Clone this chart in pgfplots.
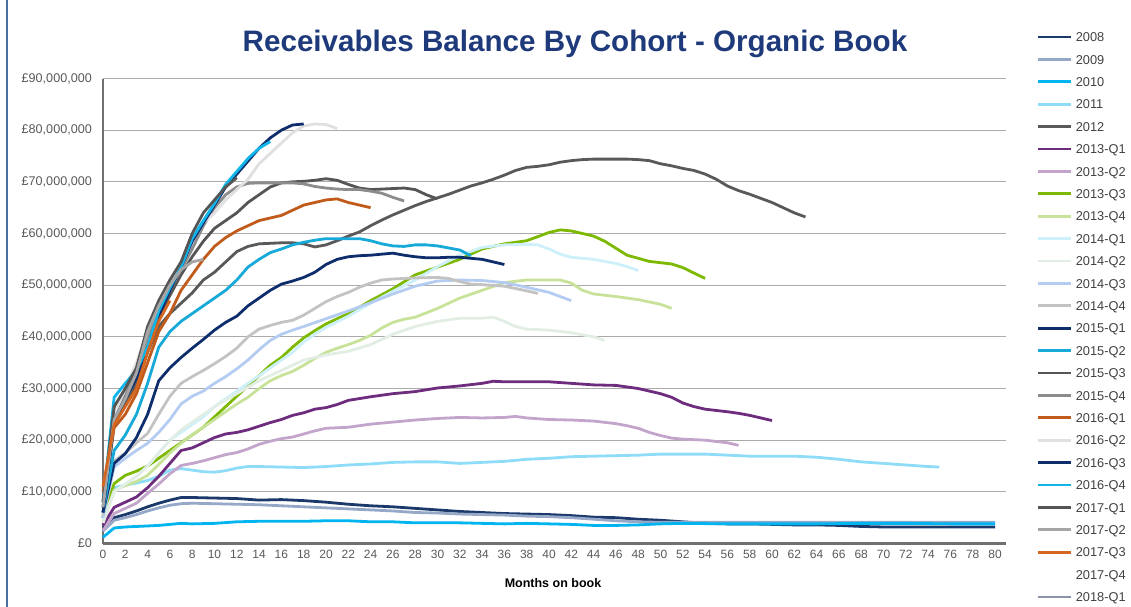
\documentclass[border=0pt]{standalone}
\usepackage{pgfplots}
\pgfplotsset{compat=1.18}
\usepackage{fontspec}
\setmainfont{Liberation Sans}
\definecolor{titleblue}{HTML}{1F3A7A}
\definecolor{ticktext}{HTML}{595959}
\definecolor{legtext}{HTML}{404040}
\definecolor{gridc}{HTML}{ABABAB}
\definecolor{axisc}{HTML}{707070}
\definecolor{framec}{HTML}{4A6FA5}
\definecolor{cA}{HTML}{1B3A6B}
\definecolor{cB}{HTML}{95A8C8}
\definecolor{cC}{HTML}{00B4F0}
\definecolor{cD}{HTML}{8FDCF8}
\definecolor{cE}{HTML}{595959}
\definecolor{cF}{HTML}{6E2C7E}
\definecolor{cG}{HTML}{C3A5CC}
\definecolor{cH}{HTML}{7DB900}
\definecolor{cI}{HTML}{C8E29A}
\definecolor{cJ}{HTML}{CDF0FA}
\definecolor{cK}{HTML}{E2EEE4}
\definecolor{cL}{HTML}{B4CCF2}
\definecolor{cM}{HTML}{C3C3C3}
\definecolor{cN}{HTML}{0E2D6C}
\definecolor{cO}{HTML}{17A9D8}
\definecolor{cP}{HTML}{555555}
\definecolor{cQ}{HTML}{8C8C8C}
\definecolor{cR}{HTML}{C05B1C}
\definecolor{cS}{HTML}{E0E0E0}
\definecolor{cT}{HTML}{0E2D6C}
\definecolor{cU}{HTML}{12B5EA}
\definecolor{cV}{HTML}{555555}
\definecolor{cW}{HTML}{A6A6A6}
\definecolor{cX}{HTML}{D4661F}
\definecolor{cZ}{HTML}{8A93AB}
\begin{document}
\begin{tikzpicture}[x=1pt,y=1pt]
\begin{axis}[
  scale only axis,
  width=903.15, height=465,
  xmin=0, xmax=81, ymin=0, ymax=90,
  xtick={0,2,...,80}, ytick={0,10,...,90},
  yticklabels={£0,{£10,000,000},{£20,000,000},{£30,000,000},{£40,000,000},{£50,000,000},{£60,000,000},{£70,000,000},{£80,000,000},{£90,000,000}},
  /pgf/number format/assume math mode=true,
  major tick length=0pt,
  ymajorgrids, grid style={draw=gridc, line width=1.3pt},
  axis x line*=bottom, axis y line*=left,
  x axis line style={-, draw=axisc, line width=2.2pt},
  y axis line style={-, draw=axisc, line width=1.3pt},
  xticklabel style={font=\fontsize{12}{14}\selectfont, text=ticktext, inner sep=0pt, yshift=-6pt, text height=8.6pt, text depth=0pt},
  yticklabel style={font=\fontsize{12.6}{14}\selectfont, text=ticktext, inner sep=0pt, xshift=-11pt},
  every axis plot/.append style={line width=2.8pt, line join=round, no marks},
  clip=false,
  legend cell align=left,
  legend image code/.code={\draw[#1, line width=2.8pt] (0pt,0pt) -- (33pt,0pt);},
  legend style={draw=none, fill=none, at={(axis description cs:1.0342,1.099)}, anchor=north west,
    font=\fontsize{12.8}{14}\selectfont, text=legtext, inner sep=0pt, outer sep=0pt,
    row sep=13.2pt, column sep=3pt,
    nodes={inner sep=0pt, text height=9.2pt, text depth=0pt}},
]
\coordinate (O) at (axis cs:0,0);
\addplot[cA] coordinates {(0,3.0)(1,5.0)(2,5.6)(3,6.3)(4,7.1)(5,7.8)(6,8.4)(7,8.9)(8,8.9)(10,8.8)(12,8.7)(14,8.4)(16,8.5)(18,8.3)(20,8.0)(22,7.6)(24,7.3)(26,7.1)(28,6.8)(30,6.5)(32,6.2)(34,6.0)(36,5.8)(38,5.7)(40,5.6)(42,5.4)(44,5.1)(46,5.0)(48,4.7)(50,4.5)(52,4.2)(54,3.9)(56,3.8)(58,3.8)(60,3.7)(62,3.6)(64,3.6)(66,3.5)(68,3.3)(70,3.2)(72,3.2)(74,3.2)(76,3.2)(78,3.2)(80,3.2)};
\addlegendentry{2008}
\addplot[cB] coordinates {(0,2.4)(1,4.5)(2,5.0)(3,5.6)(4,6.3)(5,6.9)(6,7.4)(7,7.7)(8,7.8)(10,7.7)(12,7.6)(14,7.5)(16,7.3)(18,7.1)(20,6.9)(22,6.7)(24,6.5)(26,6.3)(28,6.0)(30,5.9)(32,5.7)(34,5.6)(36,5.5)(38,5.3)(40,5.2)(42,5.0)(44,4.7)(46,4.4)(48,4.2)(50,4.1)(52,4.1)(56,4.1)(60,4.1)(64,4.1)(68,4.1)(72,4.1)(76,4.1)(80,4.1)};
\addlegendentry{2009}
\addplot[cC] coordinates {(0,1.2)(1,3.0)(2,3.2)(3,3.3)(4,3.4)(5,3.5)(6,3.7)(7,3.9)(8,3.8)(10,3.9)(12,4.2)(14,4.3)(16,4.3)(18,4.3)(20,4.4)(22,4.4)(24,4.2)(26,4.2)(28,4.0)(30,4.0)(32,4.0)(34,3.9)(36,3.8)(38,3.9)(40,3.8)(42,3.7)(44,3.5)(46,3.5)(48,3.6)(50,3.8)(52,3.9)(56,3.8)(60,3.8)(64,3.8)(68,3.9)(72,3.9)(76,3.8)(80,3.8)};
\addlegendentry{2010}
\addplot[cD] coordinates {(0,6.0)(1,10.8)(2,11.3)(3,11.7)(4,12.2)(5,13.0)(6,14.2)(7,14.5)(8,14.2)(9,13.9)(10,13.8)(11,14.1)(12,14.6)(13,14.9)(14,14.9)(16,14.8)(18,14.7)(20,14.9)(22,15.2)(24,15.4)(26,15.7)(28,15.8)(30,15.8)(32,15.5)(34,15.7)(36,15.9)(38,16.3)(40,16.5)(42,16.8)(44,16.9)(46,17.0)(48,17.1)(50,17.3)(52,17.3)(54,17.3)(56,17.1)(58,16.9)(60,16.9)(62,16.9)(64,16.7)(66,16.3)(68,15.8)(70,15.5)(72,15.2)(74,14.9)(75,14.8)};
\addlegendentry{2011}
\addplot[cE] coordinates {(0,5)(1,23)(2,27)(3,31)(4,37)(5,42)(6,44.5)(7,46.5)(8,48.5)(9,51)(10,52.5)(11,54.5)(12,56.5)(13,57.5)(14,58)(15,58.1)(16,58.2)(17,58.2)(18,58)(19,57.4)(20,57.8)(21,58.6)(22,59.5)(23,60.3)(24,61.5)(25,62.6)(26,63.6)(27,64.5)(28,65.4)(29,66.2)(30,66.9)(31,67.6)(32,68.4)(33,69.2)(34,69.8)(35,70.5)(36,71.3)(37,72.2)(38,72.8)(39,73)(40,73.3)(41,73.8)(42,74.1)(43,74.3)(44,74.4)(45,74.4)(46,74.4)(47,74.4)(48,74.3)(49,74.1)(50,73.5)(51,73.1)(52,72.6)(53,72.2)(54,71.5)(55,70.5)(56,69.2)(57,68.3)(58,67.6)(59,66.8)(60,66)(61,65)(62,64)(63,63.2)};
\addlegendentry{2012}
\addplot[cF] coordinates {(0,3.5)(1,7)(2,8)(3,9)(4,10.8)(5,13)(6,15.5)(7,18)(8,18.5)(9,19.5)(10,20.5)(11,21.2)(12,21.5)(13,22)(14,22.7)(15,23.4)(16,24)(17,24.8)(18,25.3)(19,26)(20,26.3)(21,26.9)(22,27.7)(24,28.4)(26,29)(28,29.4)(30,30.1)(32,30.5)(34,31)(35,31.4)(36,31.3)(38,31.3)(40,31.3)(42,31)(44,30.7)(46,30.6)(48,30)(50,29)(51,28.3)(52,27.2)(53,26.5)(54,26)(56,25.5)(57,25.2)(58,24.8)(60,23.8)};
\addlegendentry{2013-Q1}
\addplot[cG] coordinates {(0,2.5)(1,5.8)(2,6.8)(3,7.8)(4,9.7)(5,11.5)(6,13.5)(7,15.1)(8,15.5)(9,16)(10,16.6)(11,17.2)(12,17.6)(13,18.3)(14,19.2)(15,19.8)(16,20.3)(17,20.6)(18,21.2)(19,21.8)(20,22.3)(22,22.5)(24,23.1)(26,23.5)(28,23.9)(30,24.2)(32,24.4)(34,24.3)(36,24.4)(37,24.6)(38,24.3)(40,24)(42,23.9)(44,23.7)(46,23.2)(47,22.8)(48,22.3)(49,21.5)(50,20.9)(51,20.4)(52,20.2)(54,20.0)(56,19.5)(57,19)};
\addlegendentry{2013-Q2}
\addplot[cH] coordinates {(0,5)(1,11.6)(2,13.2)(3,14)(4,15)(5,16.5)(6,18)(7,19.5)(8,21)(9,22.5)(10,24.5)(11,26.5)(12,28.5)(13,30.5)(14,32.5)(15,34.5)(16,36)(17,38)(18,39.8)(19,41.2)(20,42.5)(22,44.5)(24,47)(26,49.3)(28,52)(30,53.5)(32,55)(34,57)(36,58)(38,58.6)(40,60.2)(41,60.7)(42,60.5)(44,59.5)(45,58.5)(47,55.8)(49,54.6)(51,54.1)(52,53.4)(54,51.3)};
\addlegendentry{2013-Q3}
\addplot[cI] coordinates {(0,4)(1,10.3)(2,11.2)(3,12)(4,13.2)(5,15.3)(6,17.5)(7,19.4)(8,21)(9,22.5)(10,24)(11,25.5)(12,27)(13,28.3)(14,30)(15,31.5)(16,32.5)(17,33.3)(18,34.5)(19,35.8)(20,37)(21,37.8)(22,38.5)(23,39.3)(24,40.3)(25,41.7)(26,42.8)(27,43.4)(28,43.8)(30,45.5)(32,47.5)(34,49)(36,50.5)(38,51)(40,51)(41,51)(42,50.4)(43,49)(44,48.3)(46,47.8)(48,47.2)(50,46.3)(51,45.5)};
\addlegendentry{2013-Q4}
\addplot[cJ] coordinates {(0,4.5)(1,10)(2,11.5)(3,13)(4,15)(5,17.5)(6,20)(7,21.5)(8,23)(9,24.5)(10,26.5)(11,28)(12,29.5)(13,31)(14,32.5)(15,34)(16,35.5)(17,37)(18,39)(19,40.5)(20,41.8)(22,44)(24,46.5)(26,48.8)(28,51)(30,53.6)(32,55.8)(34,57.3)(36,57.8)(38,57.9)(39,57.8)(40,57)(41,56)(42,55.4)(44,55)(46,54.2)(47,53.6)(48,52.8)};
\addlegendentry{2014-Q1}
\addplot[cK] coordinates {(0,4)(1,10)(2,11.5)(3,13)(4,15)(5,17.5)(6,20)(7,22)(8,23.5)(9,25)(10,26.5)(12,29)(14,31.5)(16,33.5)(18,35.5)(20,36.5)(22,37.2)(24,38.5)(26,40.5)(28,42)(30,43)(32,43.6)(34,43.6)(35,43.8)(36,43)(37,42)(38,41.5)(40,41.3)(42,40.8)(44,40)(45,39.3)};
\addlegendentry{2014-Q2}
\addplot[cL] coordinates {(0,5)(1,14.8)(2,16.5)(3,18)(4,19.4)(5,21.5)(6,24)(7,27)(8,28.5)(9,29.5)(10,31)(11,32.3)(12,33.8)(13,35.5)(14,37.5)(15,39.3)(16,40.5)(17,41.3)(18,42)(20,43.5)(22,45)(24,46.6)(26,48.3)(28,49.8)(30,50.8)(32,51)(34,50.9)(36,50.5)(38,49.6)(40,48.6)(42,47)};
\addlegendentry{2014-Q3}
\addplot[cM] coordinates {(0,5.5)(1,16)(2,17.5)(3,19.5)(4,21.3)(5,25)(6,28.5)(7,31)(8,32.3)(9,33.5)(10,34.8)(11,36.2)(12,37.8)(13,40)(14,41.5)(15,42.2)(16,42.8)(17,43.2)(18,44.2)(19,45.5)(20,46.8)(21,47.8)(22,48.6)(23,49.6)(24,50.4)(25,51)(26,51.2)(28,51.4)(30,51.5)(31,51.3)(32,50.7)(33,50.2)(34,50.1)(36,49.8)(38,48.9)(39,48.4)};
\addlegendentry{2014-Q4}
\addplot[cN] coordinates {(0,6)(1,15.5)(2,17.4)(3,20.5)(4,25)(5,31.5)(6,34)(7,36)(8,37.8)(9,39.5)(10,41.3)(11,42.8)(12,44)(13,46)(14,47.5)(15,49)(16,50.2)(17,50.8)(18,51.5)(19,52.5)(20,54)(21,55)(22,55.5)(23,55.7)(24,55.8)(25,56)(26,56.2)(27,55.8)(28,55.5)(29,55.3)(30,55.3)(31,55.4)(32,55.4)(33,55.2)(34,55)(35,54.5)(36,54)};
\addlegendentry{2015-Q1}
\addplot[cO] coordinates {(0,6)(1,18)(2,21)(3,25)(4,31)(5,38)(6,41)(7,43)(8,44.5)(9,46)(10,47.5)(11,49)(12,51)(13,53.5)(14,55)(15,56.3)(16,57)(17,57.8)(18,58.3)(19,58.7)(20,59)(21,59)(22,59)(23,59)(24,58.6)(25,58)(26,57.6)(27,57.5)(28,57.8)(29,57.8)(30,57.6)(31,57.2)(32,56.8)(33,55.7)};
\addlegendentry{2015-Q2}
\addplot[cP] coordinates {(0,7)(1,26)(2,29)(3,33)(4,40)(5,44)(6,48)(7,52)(8,55.5)(9,58.5)(10,61)(11,62.5)(12,64)(13,66)(14,67.5)(15,69)(16,69.8)(17,70)(18,70.1)(19,70.3)(20,70.6)(21,70.3)(22,69.5)(23,68.8)(24,68.5)(25,68.6)(26,68.7)(27,68.8)(28,68.5)(29,67.5)(30,66.7)};
\addlegendentry{2015-Q3}
\addplot[cQ] coordinates {(0,7)(1,25)(2,29)(3,33)(4,40)(5,45)(6,49)(7,53)(8,57)(9,61.5)(10,65)(11,67.5)(12,69)(13,69.7)(14,69.8)(15,69.8)(16,69.8)(17,69.8)(18,69.6)(19,69.1)(20,68.8)(21,68.6)(22,68.5)(23,68.5)(24,68.2)(25,67.8)(26,67)(27,66.3)};
\addlegendentry{2015-Q4}
\addplot[cR] coordinates {(0,10)(1,22.4)(2,25)(3,29)(4,35)(5,41)(6,44.5)(7,49)(8,52)(9,55)(10,57.5)(11,59.2)(12,60.5)(13,61.5)(14,62.5)(15,63)(16,63.5)(17,64.5)(18,65.5)(19,66)(20,66.5)(21,66.7)(22,66)(23,65.5)(24,65)};
\addlegendentry{2016-Q1}
\addplot[cS] coordinates {(0,8)(1,25)(2,30)(3,35)(4,41)(5,47)(6,51)(7,54.5)(8,58.5)(9,62)(10,64)(11,66.5)(12,68.5)(13,70.5)(14,73.5)(15,75.5)(16,77.5)(17,79.5)(18,80.8)(19,81.2)(20,81.1)(21,80.3)};
\addlegendentry{2016-Q2}
\addplot[cT] coordinates {(0,6)(1,24)(2,28)(3,32)(4,38)(5,44)(6,49)(7,53.5)(8,58.5)(9,62)(10,65.5)(11,69)(12,71.5)(13,74)(14,76.5)(15,78.5)(16,80)(17,81)(18,81.2)};
\addlegendentry{2016-Q3}
\addplot[cU] coordinates {(0,8)(1,28.3)(2,31)(3,33.5)(4,38)(5,45)(6,49.5)(7,53.5)(8,59)(9,62.5)(10,65.8)(11,69.5)(12,72)(13,74.5)(14,76.5)(15,77.8)};
\addlegendentry{2016-Q4}
\addplot[cV] coordinates {(0,8)(1,26.5)(2,30)(3,34)(4,42)(5,47)(6,51)(7,54.5)(8,60)(9,64)(10,66.5)(11,69)(12,70.8)};
\addlegendentry{2017-Q1}
\addplot[cW] coordinates {(0,7)(1,24)(2,28)(3,33)(4,41)(5,46)(6,50)(7,53)(8,54.5)(9,55)};
\addlegendentry{2017-Q2}
\addplot[cX] coordinates {(0,11)(1,23)(2,26.5)(3,30)(4,37)(5,43)(6,47)};
\addlegendentry{2017-Q3}
\addlegendimage{color=white}
\addlegendentry{2017-Q4}
\addplot[cZ] coordinates {(0,2.5)};
\addlegendentry{2018-Q1}
\end{axis}
\pgfresetboundingbox
\path[use as bounding box] (O) ++(-103,-62.5) rectangle ++(1131,606);
\draw[framec, line width=1.2pt] ([shift={(-96,-70)}]O) -- ([shift={(-96,550)}]O);
\node[font=\fontsize{29.6}{34}\selectfont\bfseries, text=titleblue, anchor=base] at ([shift={(472,491.5)}]O) {Receivables Balance By Cohort - Organic Book};
\node[font=\fontsize{12.5}{15}\selectfont\bfseries, text=black, anchor=base] at ([shift={(450,-43.5)}]O) {Months on book};
\end{tikzpicture}
\end{document}
